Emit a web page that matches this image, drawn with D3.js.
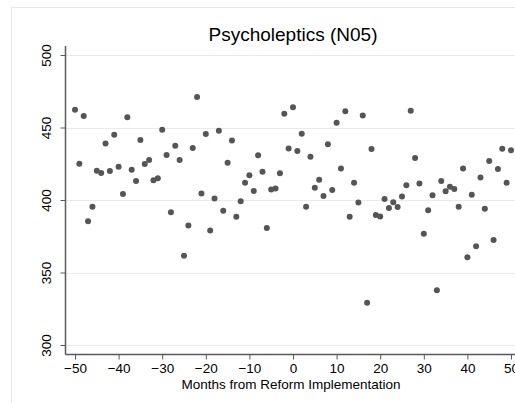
<!DOCTYPE html>
<html>
<head>
<meta charset="utf-8">
<script src="https://cdn.jsdelivr.net/npm/d3@7"></script>
<style>
  html, body { margin: 0; padding: 0; background: #ffffff; }
  svg { display: block; font-family: "Liberation Sans", Arial, sans-serif; }
</style>
</head>
<body>
<svg id="chart" width="515" height="403"></svg>
<script>
// Monthly values, months -50 … 50 relative to reform implementation
const months = d3.range(-50, 51);
const values = [
  462.3, 425.0, 457.9, 385.3, 395.4, 420.2, 418.6, 439.0, 420.0, 445.0,
  423.0, 404.1, 457.0, 420.9, 413.1, 441.4, 424.8, 427.6, 413.6, 415.0,
  448.5, 431.0, 391.5, 437.5, 427.6, 361.6, 382.5, 435.9, 471.0, 404.4,
  445.5, 379.0, 401.1, 447.8, 392.6, 425.7, 441.1, 388.5, 399.1, 411.9,
  417.0, 406.2, 430.8, 419.5, 380.7, 407.3, 408.0, 418.4, 459.5, 435.6,
  463.9, 433.8, 445.7, 395.4, 429.9, 408.5, 414.0, 402.8, 438.4, 406.9,
  453.3, 421.8, 461.2, 388.5, 411.9, 398.2, 458.2, 329.2, 435.2, 389.7,
  388.7, 400.7, 394.5, 398.4, 395.2, 402.5, 410.1, 461.6, 429.0, 411.3,
  376.8, 392.9, 403.2, 337.7, 413.1, 406.0, 409.2, 407.6, 395.4, 421.8,
  360.5, 403.7, 368.1, 415.6, 394.0, 426.9, 372.4, 421.4, 435.4, 411.9,
  434.3
];
const xTicks = [-50, -40, -30, -20, -10, 0, 10, 20, 30, 40, 50];
const yTicks = [300, 350, 400, 450, 500];
const titleText = "Psycholeptics (N05)";
const xTitle = "Months from Reform Implementation";

const svg = d3.select("#chart");

// outer graph frame
svg.append("rect")
  .attr("x", 11.5).attr("y", 7.5)
  .attr("width", 600).attr("height", 500)
  .attr("fill", "#ffffff")
  .attr("stroke", "#e8e8e8");

const x = d3.scaleLinear().domain([-50, 50]).range([75, 511]);
const y = d3.scaleLinear().domain([300, 500]).range([345, 55]);

const axisX = 65.5, axisY = 354.5;

// horizontal grid lines
svg.append("g").selectAll("line").data(yTicks).join("line")
  .attr("x1", axisX).attr("x2", 515)
  .attr("y1", d => Math.round(y(d)) + 0.5).attr("y2", d => Math.round(y(d)) + 0.5)
  .attr("stroke", "#eaeaea").attr("stroke-width", 1.2);

// y axis
const gy = svg.append("g").attr("transform", `translate(${axisX},0)`)
  .call(d3.axisLeft(y).tickValues(yTicks).tickSize(5).tickPadding(0).tickFormat(d3.format("d")));
gy.select(".domain").attr("d", `M0,46V${axisY}`).attr("stroke", "#5a5a5a").attr("stroke-width", 1.5);
gy.selectAll(".tick line").attr("stroke", "#5a5a5a");
gy.selectAll(".tick text")
  .attr("x", null).attr("dy", null)
  .attr("transform", "translate(-19,0) rotate(-90)")
  .attr("text-anchor", "middle")
  .attr("dy", "0.35em")
  .attr("font-size", 13.5)
  .attr("font-family", "Liberation Sans, Arial, sans-serif")
  .attr("fill", "#000");

// x axis
const gx = svg.append("g").attr("transform", `translate(0,${axisY})`)
  .call(d3.axisBottom(x).tickValues(xTicks).tickSize(5).tickPadding(4).tickFormat(d3.format("d")));
gx.select(".domain").attr("d", `M${axisX},0H515`).attr("stroke", "#5a5a5a").attr("stroke-width", 1.5);
gx.selectAll(".tick line").attr("stroke", "#5a5a5a");
gx.selectAll(".tick text")
  .attr("font-size", 13.5)
  .attr("font-family", "Liberation Sans, Arial, sans-serif")
  .attr("fill", "#000");

// points
svg.append("g").selectAll("circle").data(months.map((m, i) => ({m, v: values[i]}))).join("circle")
  .attr("cx", d => x(d.m))
  .attr("cy", d => y(d.v))
  .attr("r", 3)
  .attr("fill", "#555555");

// titles
svg.append("text")
  .attr("x", 293).attr("y", 41)
  .attr("text-anchor", "middle")
  .attr("font-size", 19)
  .text(titleText);

svg.append("text")
  .attr("x", 291).attr("y", 389)
  .attr("text-anchor", "middle")
  .attr("font-size", 13.5)
  .text(xTitle);
</script>
</body>
</html>
